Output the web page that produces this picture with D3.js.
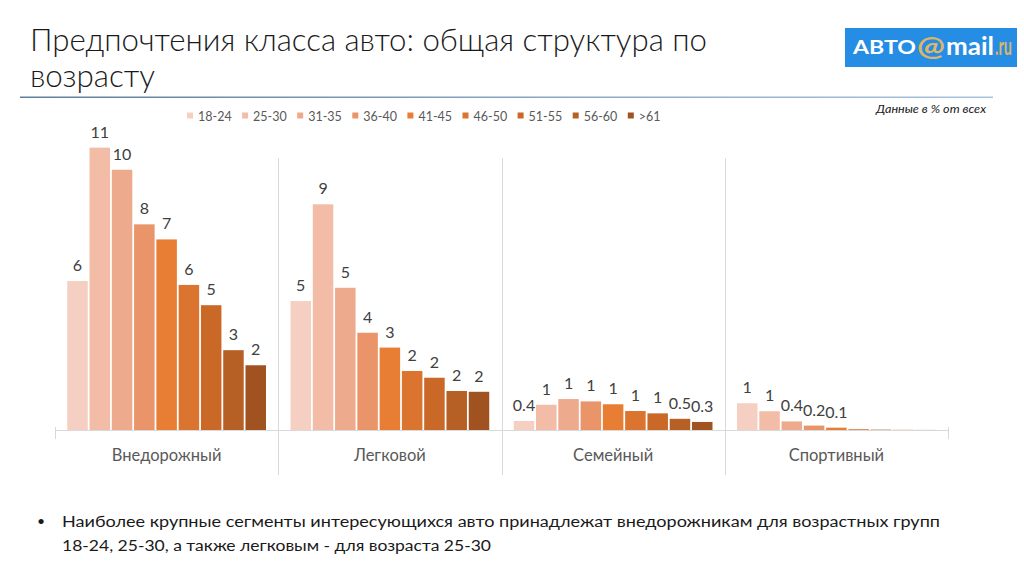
<!DOCTYPE html>
<html><head><meta charset="utf-8">
<script src="https://cdn.jsdelivr.net/npm/d3@7"></script>
<style>body{margin:0;background:#fff}svg{display:block}</style>
</head><body>
<svg id="c" width="1024" height="576"></svg>
<script>
const categories = ["Внедорожный", "Легковой", "Семейный", "Спортивный"];
const ageGroups = ["18-24", "25-30", "31-35", "36-40", "41-45", "46-50", "51-55", "56-60", ">61"];
const colors = ["#f5cfc1", "#f2bca7", "#eeaa8c", "#ea946a", "#e87e34", "#da742e", "#ca6828", "#b76026", "#a15221"];
const valuesOffroad = [5.73, 10.86, 10.01, 7.91, 7.33, 5.58, 4.8, 3.07, 2.49];
const valuesCar     = [4.96, 8.68, 5.47, 3.74, 3.17, 2.27, 2.01, 1.5, 1.47];
const valuesFamily  = [0.35, 0.97, 1.19, 1.1, 0.99, 0.73, 0.64, 0.43, 0.31];
const valuesSport   = [1.03, 0.72, 0.33, 0.17, 0.09, 0.03, 0.015, 0.005, 0.003];
const labelsOffroad = ["6", "11", "10", "8", "7", "6", "5", "3", "2"];
const labelsCar     = ["5", "9", "5", "4", "3", "2", "2", "2", "2"];
const labelsFamily  = ["0.4", "1", "1", "1", "1", "1", "1", "0.5", "0.3"];
const labelsSport   = ["1", "1", "0.4", "0.2", "0.1", "", "", "", ""];
const titleLines = ["Предпочтения класса авто: общая структура по", "возрасту"];
const note = "Данные в % от всех";
const bulletLines = ["Наиболее крупные сегменты интересующихся авто принадлежат внедорожникам для возрастных групп",
                     "18-24, 25-30, а также легковым - для возраста 25-30"];

const allValues = [valuesOffroad, valuesCar, valuesFamily, valuesSport];
const allLabels = [labelsOffroad, labelsCar, labelsFamily, labelsSport];
const data = categories.map((c, i) => ({cat: c, bars: ageGroups.map((g, j) => ({g, j, v: allValues[i][j], label: allLabels[i][j]}))}));

const svg = d3.select("#c");
const FONT = "Lato, 'Open Sans', sans-serif";

// Title
const defs = svg.append("defs");
const grad = defs.append("linearGradient").attr("id", "tl").attr("x1", "0").attr("x2", "1");
grad.append("stop").attr("offset", "0").attr("stop-color", "#5f7f9f");
grad.append("stop").attr("offset", "0.6").attr("stop-color", "#8eaacb");
grad.append("stop").attr("offset", "1").attr("stop-color", "#a9c3e0");
svg.append("text").attr("x", 30).attr("y", 51).attr("font-family", FONT).attr("font-weight", 300)
  .attr("font-size", 31).attr("fill", "#1a1a1a").attr("textLength", 677).attr("lengthAdjust", "spacingAndGlyphs").text(titleLines[0]);
svg.append("text").attr("x", 30).attr("y", 87).attr("font-family", FONT).attr("font-weight", 300)
  .attr("font-size", 31).attr("fill", "#1a1a1a").attr("textLength", 125).attr("lengthAdjust", "spacingAndGlyphs").text(titleLines[1]);
svg.append("rect").attr("x", 20).attr("y", 96.5).attr("width", 973).attr("height", 1.5).attr("fill", "url(#tl)");

// Logo
const logo = svg.append("g");
logo.append("rect").attr("x", 845).attr("y", 28).attr("width", 172).attr("height", 39).attr("fill", "#258de3");
logo.append("text").attr("x", 853).attr("y", 54).attr("font-family", FONT).attr("font-weight", 700).attr("font-size", 18)
  .attr("fill", "#fff").attr("textLength", 63).attr("lengthAdjust", "spacingAndGlyphs").text("АВТО");
logo.append("text").attr("x", 917).attr("y", 56).attr("font-family", FONT).attr("font-weight", 700).attr("font-size", 26)
  .attr("fill", "#dcb56b").attr("textLength", 28).attr("lengthAdjust", "spacingAndGlyphs").text("@");
logo.append("text").attr("x", 946).attr("y", 55).attr("font-family", FONT).attr("font-weight", 700).attr("font-size", 24)
  .attr("fill", "#fff").attr("textLength", 48).attr("lengthAdjust", "spacingAndGlyphs").text("mail");
logo.append("text").attr("x", 995).attr("y", 55).attr("font-family", FONT).attr("font-weight", 700).attr("font-size", 24)
  .attr("fill", "#dcb56b").attr("textLength", 17).attr("lengthAdjust", "spacingAndGlyphs").text(".ru");

// Note
svg.append("text").attr("x", 986).attr("y", 113).attr("text-anchor", "end").attr("font-family", FONT)
  .attr("font-style", "italic").attr("font-size", 12).attr("fill", "#1a1a1a")
  .attr("textLength", 110).attr("lengthAdjust", "spacingAndGlyphs").text(note);

// Scales
const x0 = d3.scaleBand().domain(categories).range([55, 948]).padding(0);
const x1 = d3.scaleBand().domain(ageGroups).range([0, x0.bandwidth()]).paddingInner(0.08).paddingOuter(0.55);
const y = d3.scaleLinear().domain([0, 11]).range([430, 144]);

// Separators
const bounds = categories.map(c => x0(c)).concat([x0.range()[1]]);
svg.append("g").selectAll("line").data(bounds).join("line")
  .attr("x1", d => Math.round(d) + 0.5).attr("x2", d => Math.round(d) + 0.5)
  .attr("y1", (d, i) => (i === 0 || i === bounds.length - 1) ? 427 : 158)
  .attr("y2", (d, i) => (i === 0 || i === bounds.length - 1) ? 439 : 475)
  .attr("stroke", "#d9d9d9").attr("stroke-width", 1);

// Bars
const groups = svg.append("g").selectAll("g").data(data).join("g")
  .attr("transform", d => `translate(${x0(d.cat)},0)`);
groups.selectAll("rect").data(d => d.bars).join("rect")
  .attr("x", d => x1(d.g)).attr("width", x1.bandwidth())
  .attr("y", d => y(d.v)).attr("height", d => y(0) - y(d.v))
  .attr("fill", d => colors[d.j]);
groups.selectAll("text").data(d => d.bars.filter(b => b.label)).join("text")
  .attr("x", d => x1(d.g) + x1.bandwidth() / 2).attr("y", d => y(d.v) - 10)
  .attr("text-anchor", "middle").attr("font-family", FONT).attr("font-size", 16).attr("fill", "#404040")
  .text(d => d.label);

// Axis line
svg.append("line").attr("x1", 55).attr("x2", 948).attr("y1", 430.5).attr("y2", 430.5)
  .attr("stroke", "#d9d9d9").attr("stroke-width", 1);

// Category labels
svg.append("g").selectAll("text").data(categories).join("text")
  .attr("x", d => x0(d) + x0.bandwidth() / 2).attr("y", 461).attr("text-anchor", "middle")
  .attr("font-family", FONT).attr("font-size", 16.5).attr("fill", "#595959").text(d => d);

// Legend
const leg = svg.append("g").selectAll("g").data(ageGroups).join("g")
  .attr("transform", (d, i) => `translate(${187 + i * 55.1},0)`);
leg.append("rect").attr("x", 0).attr("y", 112.5).attr("width", 6).attr("height", 6).attr("fill", (d, i) => colors[i]);
leg.append("text").attr("x", 11).attr("y", 120.5).attr("font-family", FONT).attr("font-size", 12.5)
  .attr("fill", "#595959").text(d => d);

// Bullet
svg.append("text").attr("x", 37).attr("y", 526).attr("font-family", FONT).attr("font-size", 14).attr("fill", "#1a1a1a").text("•");
svg.append("text").attr("x", 62).attr("y", 527).attr("font-family", FONT).attr("font-size", 15.5).attr("fill", "#1a1a1a")
  .attr("textLength", 878).attr("lengthAdjust", "spacingAndGlyphs").text(bulletLines[0]);
svg.append("text").attr("x", 62).attr("y", 551).attr("font-family", FONT).attr("font-size", 15.5).attr("fill", "#1a1a1a")
  .attr("textLength", 429).attr("lengthAdjust", "spacingAndGlyphs").text(bulletLines[1]);
</script>
</body></html>
